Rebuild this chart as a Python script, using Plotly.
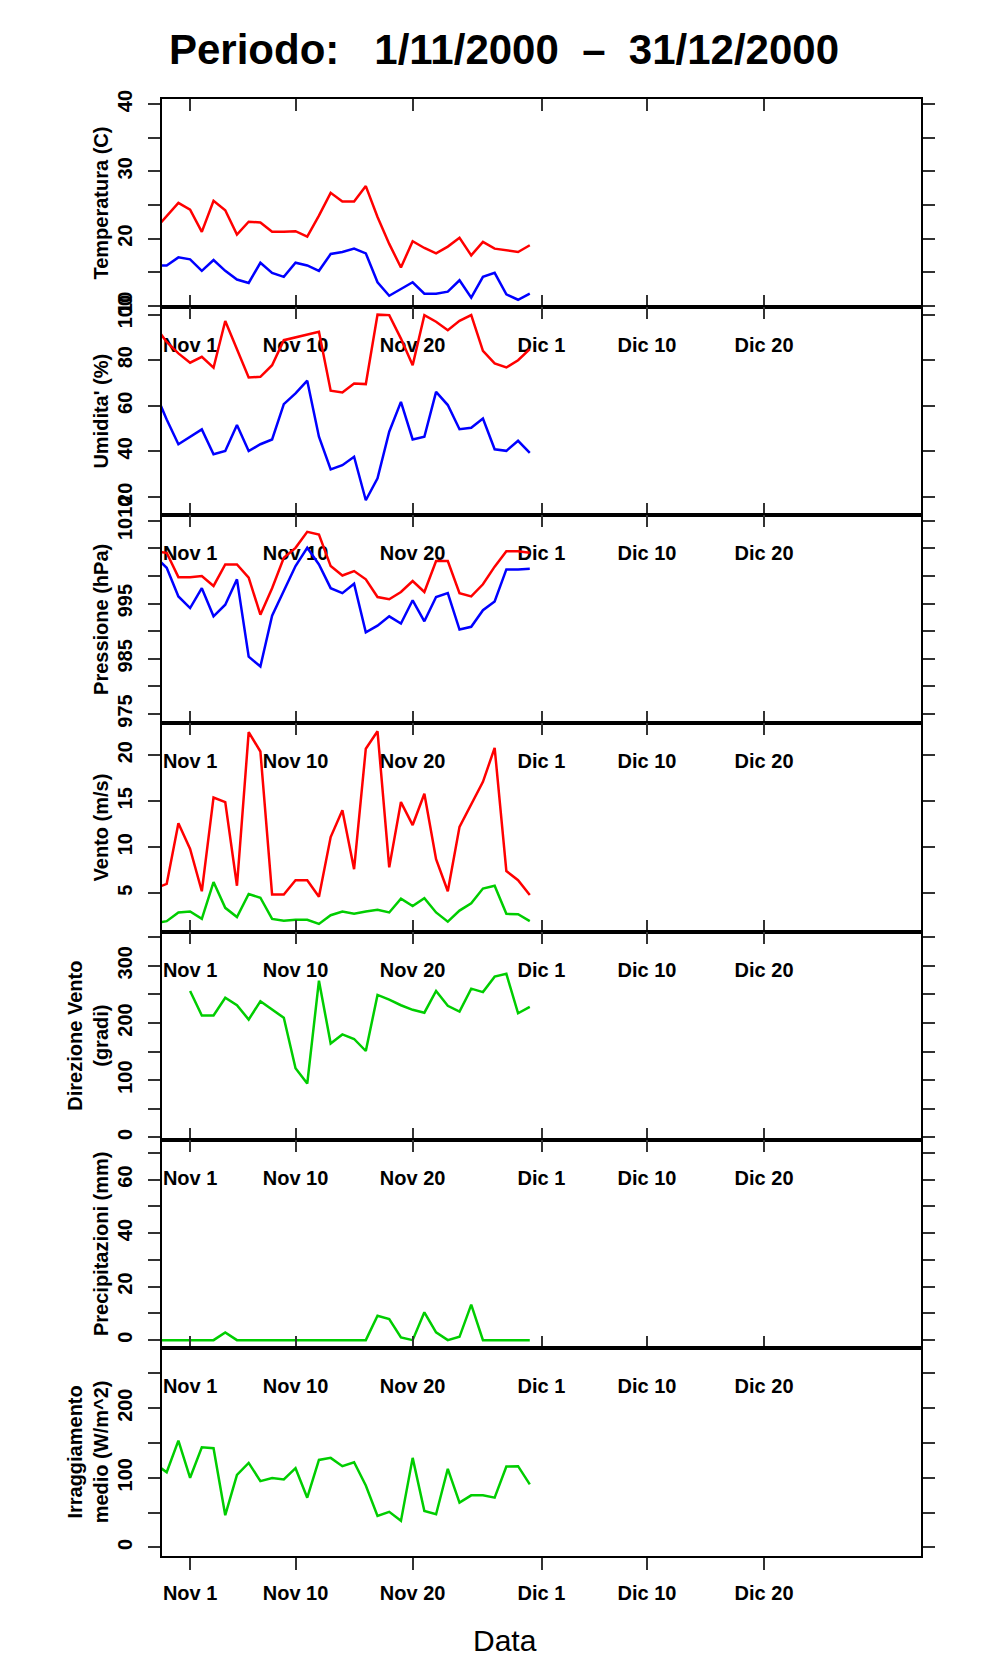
import pandas as pd
import plotly.graph_objects as go

# daily values, 29 Oct 2000 -> 30 Nov 2000
dates = pd.date_range("2000-10-29", "2000-11-30", freq="D")

temp_max = [21.4, 23.3, 25.3,
            24.3, 21.0, 25.6, 24.2, 20.6, 22.5, 22.4, 21.0, 21.0, 21.1,
            20.3, 23.4, 26.8, 25.5, 25.5, 27.8, 23.2, 19.2, 15.7, 19.6,
            18.6, 17.8, 18.8, 20.1, 17.5, 19.5, 18.5, 18.2, 18.0, 19.0]
temp_min = [16.0, 16.0, 17.2,
            16.9, 15.2, 16.8, 15.2, 13.9, 13.4, 16.4, 14.9, 14.3, 16.4,
            16.0, 15.2, 17.7, 18.0, 18.5, 17.8, 13.5, 11.5, 12.5, 13.5,
            11.8, 11.8, 12.1, 13.8, 11.2, 14.3, 14.9, 11.7, 10.9, 11.8]
hum_max = [95, 88, 83.0,
           78.9, 81.5, 76.7, 97.2, 85.0, 72.4, 72.7, 77.8, 88.8, 90.0,
           91.2, 92.5, 66.6, 65.8, 69.8, 69.5, 100, 99.8, 89.5, 77.8,
           99.8, 96.9, 93.2, 97.3, 99.8, 84.1, 78.6, 76.8, 80.0, 84.9]
hum_min = [66, 54, 43.1,
           46.4, 49.6, 38.7, 40.1, 51.5, 40.1, 43.1, 45.2, 60.7, 65.4,
           71.0, 46.4, 32.0, 33.9, 37.6, 18.5, 28.1, 48.6, 61.7, 45.2,
           46.4, 66.1, 60.3, 49.7, 50.3, 54.4, 40.9, 40.2, 44.6, 39.3]
press_max = [1004.5, 1004.2, 999.8,
             999.8, 1000.0, 998.2, 1002.1, 1002.1, 999.7, 993.0, 997.8, 1003.3, 1005.1,
             1008.0, 1007.5, 1001.8, 1000.1, 1000.9, 999.4, 996.2, 995.8, 997.1, 999.1,
             997.1, 1002.7, 1002.7, 996.9, 996.3, 998.5, 1001.7, 1004.5, 1004.5, 1004.2]
press_min = [1003.5, 1001.5, 996.3,
             994.2, 997.8, 992.7, 994.8, 999.4, 985.4, 983.6, 992.8, 997.2, 1001.8,
             1005.1, 1002.1, 997.8, 996.9, 998.6, 989.8, 991.0, 992.7, 991.4, 995.6,
             991.8, 996.2, 996.9, 990.3, 990.8, 993.8, 995.4, 1001.2, 1001.2, 1001.3]
wind_max = [5.5, 6.0, 12.6,
            9.8, 5.2, 15.4, 14.9, 5.8, 22.5, 20.4, 4.85, 4.85, 6.4,
            6.4, 4.6, 11.1, 14.0, 7.6, 20.7, 22.6, 7.8, 14.9, 12.4,
            15.8, 8.7, 5.2, 12.2, 14.7, 17.1, 20.8, 7.4, 6.4, 4.8]
wind_mean = [1.7, 1.95, 2.9,
             3.0, 2.2, 6.2, 3.4, 2.4, 4.9, 4.5, 2.2, 2.0, 2.1,
             2.1, 1.65, 2.6, 3.0, 2.75, 3.0, 3.2, 2.9, 4.4, 3.6,
             4.45, 2.9, 1.9, 3.1, 3.9, 5.5, 5.8, 2.75, 2.7, 1.95]
wind_dir = [None, None, None,
            256, 213, 213, 244, 231, 206, 238, 224, 209, 121,
            94, 274, 164, 180, 172, 151, 249, 241, 231, 223,
            218, 256, 230, 220, 260, 254, 281, 286, 217, 228]
rain = [0, 0, 0,
        0, 0, 0, 2.9, 0, 0, 0, 0, 0, 0,
        0, 0, 0, 0, 0, 0, 9.1, 7.9, 1.0, 0,
        10.4, 2.9, 0, 1.25, 13.25, 0, 0, 0, 0, 0]
irr = [120, 108, 153.3,
       100, 143.8, 142.4, 46.2, 104.3, 121.4, 95.2, 99.5, 97.6, 113.8,
       71.4, 125.7, 128.6, 116.7, 122.4, 89, 45.2, 51, 38.1, 128.6,
       52.4, 47.6, 112.9, 64.3, 74.8, 74.8, 71.4, 116.2, 116.7, 90.5]

# x axis ticks
x_tickvals = ["2000-11-01", "2000-11-10", "2000-11-20", "2000-12-01", "2000-12-10", "2000-12-20"]
x_ticktext = ["Nov 1", "Nov 10", "Nov 20", "Dic 1", "Dic 10", "Dic 20"]
x_range = ["2000-10-29 14:24", "2001-01-02 09:36"]

RED = "#FF0000"
BLUE = "#0000FF"
GREEN = "#00CD00"

# one entry per panel: title, y range, tick values, tick labels, series
panels = [
    ("Temperatura (C)", [9.8, 40.75], [10, 15, 20, 25, 30, 35, 40],
     ["10", "", "20", "", "30", "", "40"], [(temp_max, RED), (temp_min, BLUE)]),
    ("Umidita' (%)", [11.9, 103.3], [20, 40, 60, 80, 100],
     ["20", "40", "60", "80", "100"], [(hum_max, RED), (hum_min, BLUE)]),
    ("Pressione (hPa)", [973.3, 1011.0], [975, 980, 985, 990, 995, 1000, 1005, 1010],
     ["975", "", "985", "", "995", "", "", "1010"], [(press_max, RED), (press_min, BLUE)]),
    ("Vento (m/s)", [0.82, 23.45], [5, 10, 15, 20],
     ["5", "10", "15", "20"], [(wind_max, RED), (wind_mean, GREEN)]),
    ("Direzione Vento<br>(gradi)", [-4.1, 359.8], [0, 50, 100, 150, 200, 250, 300, 350],
     ["0", "", "100", "", "200", "", "300", ""], [(wind_dir, GREEN)]),
    ("Precipitazioni (mm)", [-2.88, 74.88], [0, 10, 20, 30, 40, 50, 60, 70],
     ["0", "", "20", "", "40", "", "60", ""], [(rain, GREEN)]),
    ("Irraggiamento<br>medio (W/m^2)", [-12.4, 286.7], [0, 50, 100, 150, 200, 250],
     ["0", "", "100", "", "200", ""], [(irr, GREEN)]),
]

FONT = "Liberation Sans, Arial, sans-serif"
bold20 = dict(family=FONT, size=20, color="black", weight="bold")

# page body keeps an 8px margin, so the figure is 8px smaller
W, H = 988, 1672

fig = go.Figure()
n = len(panels)
layout = {}
for i, (title, yr, tv, tt, series) in enumerate(panels):
    k = i + 1
    sfx = "" if k == 1 else str(k)
    for vals, col in series:
        fig.add_trace(go.Scatter(x=dates, y=vals, mode="lines",
                                 line=dict(color=col, width=2.5),
                                 xaxis="x" + sfx, yaxis="y" + sfx,
                                 showlegend=False, hoverinfo="skip"))
    last = (k == n)
    layout["xaxis" + sfx] = dict(
        domain=[0, 1], anchor="y" + sfx, type="date", range=x_range,
        tickmode="array", tickvals=x_tickvals, ticktext=x_ticktext,
        ticks="outside" if last else "inside", ticklen=12, tickwidth=1.5,
        tickcolor="#333333", mirror=True if last else "ticks",
        showline=True, linecolor="black", linewidth=2,
        showgrid=False, zeroline=False, tickfont=bold20,
        ticklabelstandoff=6 if last else 19,
    )
    layout["yaxis" + sfx] = dict(
        domain=[1 - k / n, 1 - i / n], anchor="x" + sfx, range=yr,
        tickmode="array", tickvals=tv, ticktext=tt, tickangle=-90,
        ticks="outside", ticklen=12, tickwidth=1.5, tickcolor="#333333",
        mirror="ticks", showline=True, linecolor="black", linewidth=2,
        showgrid=False, zeroline=False, tickfont=bold20,
        ticklabelstandoff=8,
        title=dict(text=title, font=bold20, standoff=0),
    )

# inward ticks on top of the last panel
layout["xaxis8"] = dict(
    overlaying="x7", anchor="y7", side="top", type="date", range=x_range,
    tickmode="array", tickvals=x_tickvals, ticks="inside", ticklen=12,
    tickwidth=1.5, tickcolor="#333333", showticklabels=False,
    showline=False, showgrid=False, zeroline=False,
)

fig.update_layout(**layout)
fig.update_layout(
    width=W, height=H,
    margin=dict(l=154, r=75, t=91, b=124),
    paper_bgcolor="white", plot_bgcolor="rgba(0,0,0,0)",
    font=dict(family=FONT, color="black"),
    title=dict(text="Periodo:\u00a0\u00a0\u00a01/11/2000\u00a0\u00a0–\u00a0\u00a031/12/2000",
               font=dict(family=FONT, size=42, color="black", weight="bold"),
               xref="paper", x=(504 - 162) / 759, xanchor="center",
               yref="container", y=1 - 41 / H, yanchor="middle"),
    annotations=[dict(text="Data", xref="paper", yref="paper",
                      x=(505 - 162) / 759, y=(1556 - 1640) / 1457,
                      xanchor="center", yanchor="middle", showarrow=False,
                      font=dict(family=FONT, size=30, color="black"))],
)

fig.write_html("out.html")
